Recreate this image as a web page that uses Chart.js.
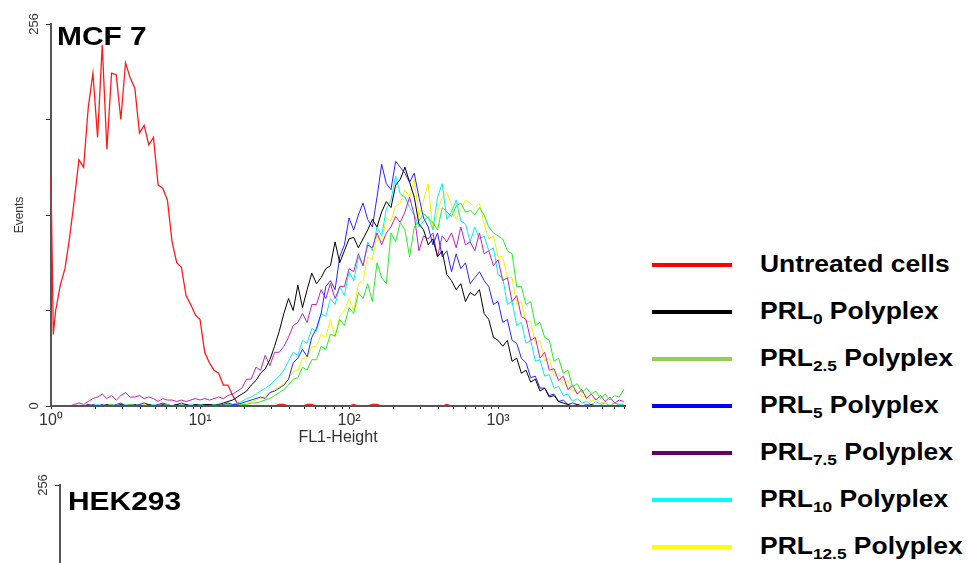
<!DOCTYPE html>
<html><head><meta charset="utf-8">
<script src="https://cdn.jsdelivr.net/npm/chart.js@4.4.1/dist/chart.umd.min.js"></script>
<style>
html,body{margin:0;padding:0;background:#fff;width:969px;height:563px;overflow:hidden;font-family:"Liberation Sans",Arial,sans-serif;}
#c1{position:absolute;left:0;top:0;}
#c2{position:absolute;left:0;top:461px;}
.ptitle{position:absolute;font-weight:bold;font-size:26px;line-height:26px;transform:scaleX(1.15);transform-origin:0 0;color:#000;white-space:nowrap;}
.sw{position:absolute;left:652px;width:80px;height:4px;}
.lt{position:absolute;left:760px;font-weight:bold;font-size:23px;line-height:26px;height:26px;transform:scaleX(1.15);transform-origin:0 0;white-space:nowrap;color:#000;}
.lt sub{font-size:15px;vertical-align:-5px;line-height:0;}
</style>
</head><body>
<canvas id="c1" width="640" height="450"></canvas>
<canvas id="c2" width="640" height="450"></canvas>
<div class="ptitle" style="left:57px;top:23px;">MCF 7</div>
<div class="ptitle" style="left:68px;top:488px;">HEK293</div>
<div id="legend"></div>
<script>
// FL1 channel (256-channel histogram, 64 channels per decade)
const channels = [0,1,2,4,6,8,10,12,14,16,18,20,22,24,26,28,30,32,34,36,38,40,42,44,46,48,50,52,54,56,58,60,62,64,66,68,70,72,74,76,78,80,82,84,86,88,90,92,94,96,98,100,102,104,106,108,110,112,114,116,118,120,122,124,126,128,130,132,134,136,138,140,142,144,146,148,150,152,154,156,158,160,162,164,166,168,170,172,174,176,178,180,182,184,186,188,190,192,194,196,198,200,202,204,206,208,210,212,214,216,218,220,222,224,226,228,230,232,234,236,238,240,242,244,246];

const untreated = [153,48,
 64,81,92,113,138,165,160,200,223,180,
 242,172,223,222,192,230,220,213,183,188,
 175,180,148,146,138,110,96,93,74,68,
 61,58,36,29,24,22,14,14,7,2,
 0,0,0,0,0,0,0,0,1,1,
 0,0,0,0,1,1,0,0,0,0,
 0,0,0,0,1,0,0,0,1,1,
 0,0,0,0,0,0,0,0,0,0,
 0,0,0,0,1,0,0,0,0,0,
 0,0,0,0,0,0,0,0,0,0,
 0,0,0,0,0,0,0,0,0,0,
 0,0,0,0,0,0,0,0,0,0,
 0,1,0];

const prl0 = [0,0,
 0,0,0,0,0,0,0,1,0,0,
 0,1,0,0,1,0,0,1,0,0,
 1,0,0,1,0,0,1,0,1,0,
 1,0,1,1,0,1,2,3,4,6,
 8,10,14,17,22,25,31,40,50,62,
 72,64,81,66,78,89,82,86,92,94,
 110,96,104,112,113,106,112,118,125,120,
 130,137,133,148,152,160,150,140,122,118,
 108,112,100,104,88,84,78,82,70,76,
 74,78,62,58,46,44,40,44,30,32,
 22,24,16,18,10,12,6,7,3,2,
 1,0,1,0,0,1,0,0,0,0,
 0,0,0];

const prl25 = [0,0,
 0,0,0,0,0,0,0,0,0,0,
 0,0,1,0,0,0,1,0,0,0,
 1,0,0,0,1,0,0,1,0,0,
 0,1,0,0,1,0,0,1,0,0,
 1,1,2,2,3,4,5,7,9,11,
 14,18,19,26,24,31,31,40,38,48,
 47,58,54,66,62,76,72,82,70,96,
 86,82,116,110,123,118,100,120,124,129,
 126,123,118,133,130,127,134,136,130,131,
 128,133,128,120,116,114,112,104,102,80,
 80,68,70,54,56,46,44,30,32,22,
 24,13,15,9,12,8,10,5,8,4,
 7,6,11];

const prl5 = [0,0,
 0,0,0,0,0,0,0,0,1,0,
 1,0,0,1,2,0,1,0,1,2,
 1,0,1,2,1,0,1,2,1,0,
 1,1,0,1,1,0,1,2,1,1,
 2,3,4,5,6,5,9,10,12,14,
 18,29,32,38,33,46,52,62,80,84,
 78,100,108,126,118,128,136,125,120,140,
 162,149,145,164,160,156,150,156,140,126,
 120,108,116,100,104,90,102,92,96,82,
 86,90,84,80,68,70,56,58,44,42,
 32,29,19,20,12,12,7,8,3,4,
 1,2,1,0,1,0,0,0,0,0,
 0,0,0];

const prl75 = [0,0,
 0,0,0,0,1,2,1,3,5,6,
 8,5,7,4,7,9,6,6,7,5,
 6,5,3,5,4,4,3,4,3,4,
 5,4,5,4,5,6,5,7,8,10,
 12,18,18,26,24,34,27,36,36,40,
 46,54,56,62,56,68,68,78,72,82,
 72,80,80,92,90,102,94,108,106,116,
 108,116,120,127,123,130,140,128,104,114,
 112,116,100,114,110,116,106,120,108,110,
 104,116,102,104,94,98,84,86,70,74,
 60,58,44,46,32,36,24,25,17,20,
 11,14,8,11,5,8,4,7,3,6,
 2,4,3];

const prl10 = [0,0,
 0,0,0,0,0,0,0,0,0,1,
 0,0,1,0,0,1,0,0,1,0,
 0,1,0,0,1,0,1,0,0,1,
 0,1,1,0,1,1,0,1,1,2,
 3,5,6,8,10,12,14,17,20,24,
 30,36,34,44,42,52,50,62,60,72,
 68,80,74,90,84,100,94,110,104,120,
 114,132,138,154,142,140,133,128,120,124,
 127,118,140,149,125,130,138,124,122,110,
 120,112,114,104,106,88,86,68,70,54,
 56,42,44,30,31,20,21,12,13,7,
 8,3,5,2,3,1,3,1,2,0,
 2,1,1];

const prl125 = [0,0,
 0,0,0,0,0,0,0,0,0,0,
 0,1,0,0,0,1,0,0,0,1,
 0,0,1,0,0,0,1,0,0,0,
 1,0,0,1,0,0,1,0,0,1,
 1,2,3,4,5,7,9,11,13,15,
 18,23,24,32,32,40,40,48,46,58,
 46,60,64,72,64,82,84,100,98,114,
 110,126,124,134,136,145,140,152,127,138,
 149,118,130,140,143,135,125,132,138,136,
 133,136,122,112,114,100,100,86,86,68,
 70,56,57,42,44,30,32,20,22,14,
 17,10,11,6,7,3,5,2,3,1,
 2,1,2];

const seriesNames = ['Untreated cells','PRL0 Polyplex','PRL2.5 Polyplex','PRL5 Polyplex','PRL7.5 Polyplex','PRL10 Polyplex','PRL12.5 Polyplex'];
const legendMain = ['Untreated cells','PRL','PRL','PRL','PRL','PRL','PRL'];
const legendSubs = ['','0','2.5','5','7.5','10','12.5'];
const legendTail = ['',' Polyplex',' Polyplex',' Polyplex',' Polyplex',' Polyplex',' Polyplex'];
const lineColors = ['#ff1a1a','#000000','#22ee22','#2626ff','#c020c0','#00eeee','#f2f200'];
const legendColors = ['#ff0000','#000000','#92d050','#0000ff','#660066','#00ffff','#ffff00'];

const xMajorChannels = [0,64,128,192];
const xTickLabels = ['10\u2070','10\u00b9','10\u00b2','10\u00b3'];
const yTickLabels = [0,256];
const yTitle = 'Events';
const xTitle = 'FL1-Height';
const xMaxChannel = 246.5;

const allSeries = [untreated,prl0,prl25,prl5,prl75,prl10,prl125];

Chart.defaults.font.family = '"Liberation Sans", Arial, sans-serif';

// tick mark positions on the log axis (in channels)
const xTickPositions = [];
for (let n = 0; n < 4; n++) {
  for (let k = 1; k <= 9; k++) {
    const c = 64 * (n + Math.log10(k));
    if (c <= xMaxChannel) xTickPositions.push(c);
  }
}

const rotYLabels = {
  id: 'rotYLabels',
  afterDraw(chart) {
    const ys = chart.scales.y;
    const ctx = chart.ctx;
    ctx.save();
    ctx.fillStyle = '#333';
    ctx.font = '13px "Liberation Sans", Arial, sans-serif';
    ctx.textAlign = 'center';
    ctx.textBaseline = 'middle';
    yTickLabels.forEach(v => {
      const y = ys.getPixelForValue(v);
      ctx.save();
      ctx.translate(chart.chartArea.left - 17, y);
      ctx.rotate(-Math.PI / 2);
      ctx.fillText(String(v), 0, 0);
      ctx.restore();
    });
    ctx.restore();
  }
};

function makeChart(id, datasets, yWidth) {
  return new Chart(document.getElementById(id), {
    type: 'line',
    data: { datasets },
    options: {
      responsive: false,
      animation: false,
      events: [],
      layout: { padding: { top: 24, right: 15, left: 0, bottom: 0 } },
      plugins: { legend: { display: false }, tooltip: { enabled: false } },
      elements: { point: { radius: 0 }, line: { borderWidth: 1, tension: 0 } },
      scales: {
        x: {
          type: 'linear', min: 0, max: xMaxChannel,
          afterBuildTicks: s => { s.ticks = xTickPositions.map(v => ({ value: v })); },
          afterFit: s => { s.height = 44; },
          grid: { drawOnChartArea: false, drawTicks: true, tickLength: 3, color: '#333' },
          border: { display: true, color: '#555', width: 2, z: 1 },
          ticks: {
            autoSkip: false, maxRotation: 0, minRotation: 0, padding: 2,
            color: '#333', font: { size: 16 },
            callback: (v) => { const i = xMajorChannels.indexOf(Math.round(v * 1000) / 1000); return i >= 0 ? xTickLabels[i] : ''; }
          },
          title: { display: true, text: xTitle, color: '#333', font: { size: 16 }, padding: { top: 0, bottom: 3 } }
        },
        y: {
          min: 0, max: 256,
          afterFit: s => { s.width = yWidth; },
          grid: { drawOnChartArea: false, drawTicks: true, tickLength: 5, color: '#333' },
          border: { display: true, color: '#555', width: 2 },
          ticks: { stepSize: 64, display: false },
          title: { display: true, text: yTitle, color: '#333', font: { size: 12 }, padding: { top: 12, bottom: 0 } }
        }
      }
    },
    plugins: [rotYLabels]
  });
}

const ds = allSeries.map((vals, i) => ({
  label: seriesNames[i],
  data: vals.map((v, j) => ({ x: channels[j], y: v })),
  borderColor: lineColors[i],
  backgroundColor: lineColors[i],
  borderWidth: i === 0 ? 1.3 : 1,
  fill: false,
  clip: false,
  order: i === 0 ? 10 : i
}));

makeChart('c1', ds, 51);
makeChart('c2', [], 60);

// legend
const legendEl = document.getElementById('legend');
seriesNames.forEach((name, i) => {
  const base = 272 + 47 * i;
  const sw = document.createElement('div');
  sw.className = 'sw';
  sw.style.top = (base - 9) + 'px';
  sw.style.background = legendColors[i];
  legendEl.appendChild(sw);
  const t = document.createElement('div');
  t.className = 'lt';
  t.style.top = (base - 21) + 'px';
  t.appendChild(document.createTextNode(legendMain[i]));
  if (legendSubs[i]) {
    const s = document.createElement('sub');
    s.textContent = legendSubs[i];
    t.appendChild(s);
  }
  if (legendTail[i]) t.appendChild(document.createTextNode(legendTail[i]));
  legendEl.appendChild(t);
});
</script>
</body></html>
